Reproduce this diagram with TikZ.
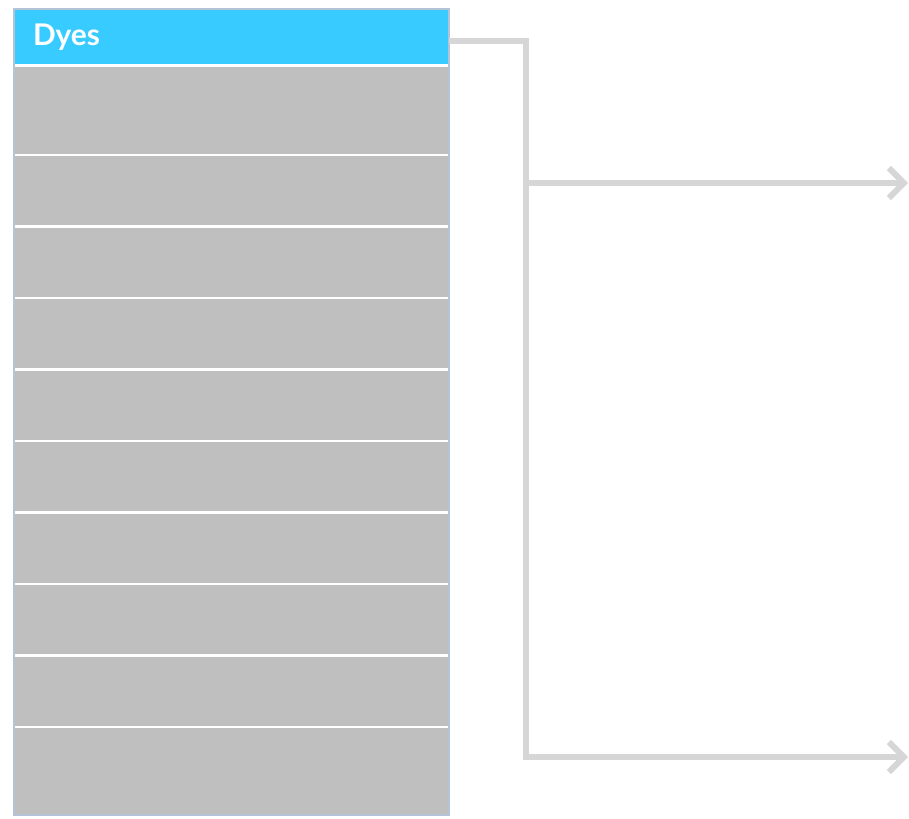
\documentclass[tikz,border=0pt]{standalone}
\usepackage{fontspec}
\setsansfont{Lato}
\usetikzlibrary{positioning,arrows.meta}
\definecolor{dyecyan}{HTML}{38CBFF}
\definecolor{rowgray}{HTML}{BFBFBF}
\definecolor{linkgray}{HTML}{D6D6D6}
\definecolor{framegray}{HTML}{B4C3D8}

\begin{document}
\begin{tikzpicture}[
    headbox/.style={rectangle, fill=dyecyan, minimum width=8.7cm, minimum height=1.13cm,
        text width=7.94cm, inner xsep=0.38cm, inner ysep=0pt, outer sep=0pt, align=left,
        text=white, font=\sffamily\bfseries\fontsize{17}{19}\selectfont},
    rowbox/.style={rectangle, fill=rowgray, minimum width=8.7cm, inner sep=0pt, outer sep=0pt},
    sepline/.style={draw=white, line width=1.6pt},
    link/.style={draw=linkgray, line width=3.4pt},
    tip/.style={-{Straight Barb[length=0.3cm, width=0.6cm]}}
]
    \useasboundingbox (0,0) rectangle (18.18,16.36);

    % table
    \node[headbox, anchor=north west] (dyes) at (0.28,16.18) {Dyes};
    \node[rowbox, minimum height=1.79cm, below=0pt of dyes] (row1) {};
    \foreach \i [remember=\i as \prev (initially 1)] in {2,...,9} {
        \node[rowbox, minimum height=1.43cm, below=0pt of row\prev] (row\i) {};
    }
    \node[rowbox, minimum height=1.76cm, below=0pt of row9] (row10) {};
    \foreach \i in {1,...,10} {
        \draw[sepline] (row\i.north west) -- (row\i.north east);
    }
    \draw[framegray, line width=0.6pt] (dyes.north west) rectangle (row10.south east);

    % connectors
    \coordinate (bend) at (10.52,1.22);
    \coordinate (upper) at (18.16,12.70);
    \coordinate (lower) at (18.16,1.22);
    \draw[link, tip] ([yshift=-0.08cm]dyes.east) -| (bend) -- (lower);
    \draw[link, tip] (bend |- upper) -- (upper);
\end{tikzpicture}
\end{document}
